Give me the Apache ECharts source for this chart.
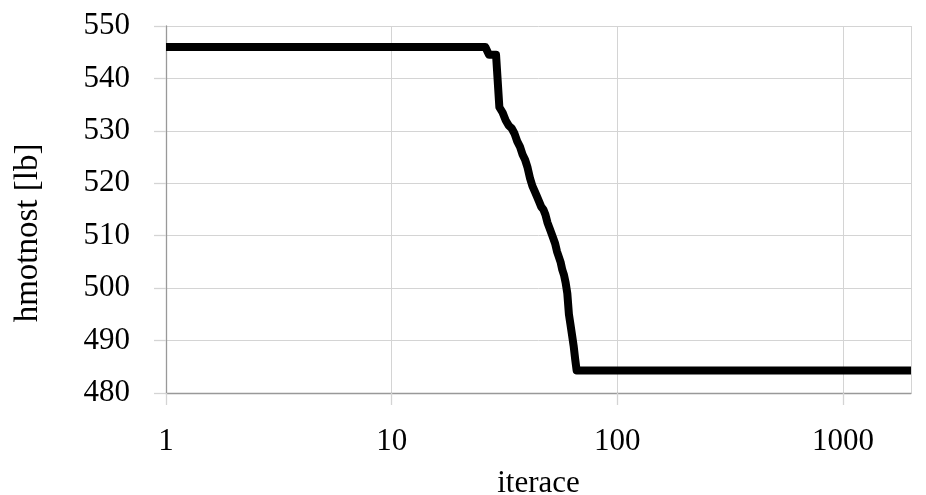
<!DOCTYPE html>
<html>
<head>
<meta charset="utf-8">
<script src="https://cdn.jsdelivr.net/npm/echarts@6/dist/echarts.min.js"></script>
<style>
html,body{margin:0;padding:0;background:#fff;}
#c{width:926px;height:495px;}
</style>
</head>
<body>
<div id="c"></div>
<script>
// Iteration numbers and the corresponding mass [lb]
var iterations = [1, 26, 27, 28, 29, 30, 31, 32, 33, 34, 35, 36, 37, 38, 39, 40,
  41, 42, 43, 44, 45, 46, 47, 48, 49, 50, 51, 52, 53, 54, 55, 56, 57, 58, 59, 60,
  61, 62, 63, 64, 65, 66, 2000];
var masses = [546, 546, 544.5, 544.5, 544.5, 534.5, 533.5, 532, 531, 530.5, 529.5, 528, 527, 525.5, 524.5, 523,
  521, 519.5, 518.5, 517.5, 516.5, 515.5, 515, 514, 512.5, 511.5, 510.5, 509.5, 508.5, 507, 506, 505, 503.5, 502.5, 501, 499,
  495, 493, 491, 489, 486.5, 484.3, 484.3];
var yTicks = [480, 490, 500, 510, 520, 530, 540, 550];
var xLabel = 'iterace';
var yLabel = 'hmotnost [lb]';

var seriesData = iterations.map(function (it, i) { return [it, masses[i]]; });

var FONT = '"Liberation Serif", "DejaVu Serif", serif';
var chart = echarts.init(document.getElementById('c'), null, {renderer: 'canvas'});
chart.setOption({
  animation: false,
  backgroundColor: '#ffffff',
  grid: {left: 166, right: 15, top: 26, bottom: 102, containLabel: false, outerBoundsMode: 'none'},
  xAxis: {
    type: 'log',
    logBase: 10,
    min: 1,
    max: 2000,
    name: xLabel,
    nameLocation: 'middle',
    nameGap: 75,
    nameTextStyle: {fontFamily: FONT, fontSize: 31, color: '#000'},
    axisLine: {show: true, lineStyle: {color: '#999999', width: 1.3}},
    axisTick: {show: true, inside: false, length: 12, lineStyle: {color: '#d4d4d4', width: 1.3}},
    minorTick: {show: false},
    axisLabel: {fontFamily: FONT, fontSize: 31, color: '#000', margin: 33, showMaxLabel: false,
      formatter: function (v) { return String(Math.round(v)); }},
    splitLine: {show: true, lineStyle: {color: '#d4d4d4', width: 1}}
  },
  yAxis: {
    type: 'value',
    min: yTicks[0],
    max: yTicks[yTicks.length - 1],
    interval: 10,
    axisLine: {show: true, lineStyle: {color: '#999999', width: 1.3}},
    axisTick: {show: true, inside: false, length: 12, lineStyle: {color: '#d4d4d4', width: 1.3}},
    axisLabel: {fontFamily: FONT, fontSize: 31, color: '#000', margin: 36},
    splitLine: {show: true, lineStyle: {color: '#d4d4d4', width: 1}}
  },
  graphic: [{
    type: 'text',
    x: 28, y: 233,
    rotation: Math.PI / 2,
    style: {text: yLabel, font: '33px ' + FONT, fill: '#000', align: 'center', verticalAlign: 'middle'}
  }],
  series: [{
    type: 'line',
    data: seriesData,
    showSymbol: false,
    symbol: 'none',
    clip: true,
    lineStyle: {color: '#000', width: 8, cap: 'butt', join: 'round'},
    z: 5
  }]
});
</script>
</body>
</html>
